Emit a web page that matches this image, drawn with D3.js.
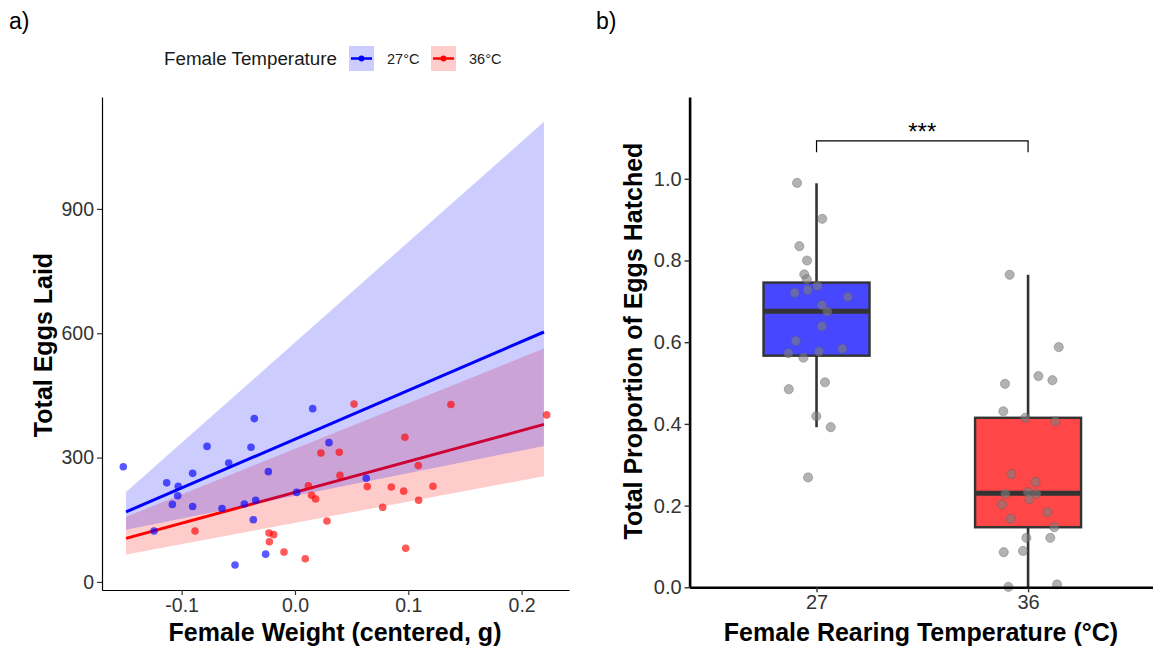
<!DOCTYPE html>
<html>
<head>
<meta charset="utf-8">
<script src="https://cdn.jsdelivr.net/npm/d3@7"></script>
<style>
  html, body { margin: 0; padding: 0; background: #ffffff; }
  svg { display: block; font-family: "Liberation Sans", Arial, sans-serif; }
</style>
</head>
<body>
<svg id="chart" width="1153" height="651"></svg>
<script>
// ---- Panel a: eggs laid vs centred female weight ----
const weight27 = [-0.1515, -0.1244, -0.1132, -0.103, -0.1035, -0.1082, -0.0903, -0.0903, -0.0776, -0.0585,
                  -0.0644, -0.0529, -0.0447, -0.0388, -0.0359, -0.0347, -0.0235, -0.0368, -0.0259, 0.0015,
                  0.0156, 0.030, 0.0629];
const eggs27   = [278, 123, 239, 231, 208, 187, 262, 182, 327, 287,
                  177, 41, 188, 325, 394, 197, 266, 150, 67, 216,
                  418, 336, 250];
const weight36 = [-0.0882, -0.0229, -0.0188, -0.0226, -0.0097, 0.0091, 0.0229, 0.0391, 0.0118, 0.0147,
                  0.0182, 0.0282, 0.0397, 0.0521, 0.0638, 0.0774, 0.085, 0.0959, 0.097, 0.0977,
                  0.1088, 0.1091, 0.1218, 0.1376, 0.2221];
const eggs36   = [123, 118, 114, 97, 72, 56, 311, 313, 232, 209,
                  200, 147, 257, 429, 230, 180, 229, 219, 349, 81,
                  281, 197, 231, 428, 403];

// model predictions at the ends of the weight range
const fitWeight = [-0.1491, 0.2197];
const fit27  = [169, 603];
const low27  = [126, 328];
const high27 = [217, 1110];
const fit36  = [105, 380];
const low36  = [66, 255];
const high36 = [157, 563];

const eggTicks = [0, 300, 600, 900];
const weightTicks = [-0.1, 0.0, 0.1, 0.2];

// ---- Panel b: hatching proportion by rearing temperature ----
const temps = ["27", "36"];
const boxQ1     = [0.567, 0.147];
const boxMedian = [0.676, 0.230];
const boxQ3     = [0.746, 0.415];
const whiskLow  = [0.392, 0.000];
const whiskHigh = [0.989, 0.765];

const hatch27  = [0.990, 0.902, 0.835, 0.800, 0.766, 0.754, 0.738, 0.721, 0.728, 0.711,
                  0.691, 0.675, 0.639, 0.603, 0.584, 0.573, 0.577, 0.562, 0.502, 0.485,
                  0.419, 0.392, 0.269];
const jitter27 = [-0.092, 0.027, -0.081, -0.045, -0.058, -0.046, 0.004, -0.103, -0.042, 0.148,
                  0.025, 0.051, 0.025, -0.098, 0.122, -0.133, 0.012, -0.062, 0.040, -0.131,
                  -0.001, 0.067, -0.040];
const hatch36  = [0.765, 0.588, 0.517, 0.507, 0.498, 0.431, 0.415, 0.406, 0.277, 0.258,
                  0.229, 0.233, 0.229, 0.216, 0.203, 0.184, 0.168, 0.147, 0.121, 0.121,
                  0.086, 0.089, 0.001, 0.007];
const jitter36 = [-0.087, 0.145, 0.049, 0.115, -0.109, -0.117, -0.013, 0.129, -0.079, 0.035,
                  -0.107, -0.001, 0.039, 0.006, -0.123, 0.091, -0.082, 0.124, -0.008, 0.105,
                  -0.115, -0.024, -0.093, 0.137];
const hatchTicks = [0.0, 0.2, 0.4, 0.6, 0.8, 1.0];

// significance bracket (y extent in data units) and its label
const bracketTop = 1.093, bracketFoot = 1.065;
const sigLabel = "***";

const svg = d3.select("#chart");
const BLUE = "#0000ff", RED = "#ff0000";
const FONT = "Liberation Sans, Arial, sans-serif";

// =================== Panel a ===================
const xA = d3.scaleLinear().domain([-0.1703, 0.2418]).range([102, 569]);
const yA = d3.scaleLinear().domain([-19.5, 1170]).range([590, 97]);
const gA = svg.append("g");

function ribbon(lo, hi) {
  return d3.area()
    .x((d, i) => xA(fitWeight[i]))
    .y0((d, i) => yA(lo[i]))
    .y1((d, i) => yA(hi[i]))(fitWeight);
}
function fitLine(f) {
  return d3.line().x((d, i) => xA(fitWeight[i])).y((d, i) => yA(f[i]))(fitWeight);
}

// 36 °C band and line first, then 27 °C on top
gA.append("path").attr("d", ribbon(low36, high36)).attr("fill", RED).attr("fill-opacity", 0.2);
gA.append("path").attr("d", fitLine(fit36)).attr("fill", "none").attr("stroke", RED).attr("stroke-width", 3);
gA.append("path").attr("d", ribbon(low27, high27)).attr("fill", BLUE).attr("fill-opacity", 0.2);
gA.append("path").attr("d", fitLine(fit27)).attr("fill", "none").attr("stroke", BLUE).attr("stroke-width", 3);

gA.append("g").selectAll("circle").data(weight27).join("circle")
  .attr("cx", d => xA(d)).attr("cy", (d, i) => yA(eggs27[i])).attr("r", 3.8)
  .attr("fill", BLUE).attr("fill-opacity", 0.65);
gA.append("g").selectAll("circle").data(weight36).join("circle")
  .attr("cx", d => xA(d)).attr("cy", (d, i) => yA(eggs36[i])).attr("r", 3.8)
  .attr("fill", RED).attr("fill-opacity", 0.65);

// axes
const axA_y = gA.append("g").attr("transform", "translate(102,0)")
  .call(d3.axisLeft(yA).tickValues(eggTicks).tickSizeInner(5).tickSizeOuter(0).tickPadding(3)
    .tickFormat(d3.format("d")));
const axA_x = gA.append("g").attr("transform", "translate(0,590)")
  .call(d3.axisBottom(xA).tickValues(weightTicks).tickSizeInner(5).tickSizeOuter(0).tickPadding(3)
    .tickFormat(d => d3.format(".1f")(d).replace("−", "-")));
[axA_y, axA_x].forEach(ax => {
  ax.select(".domain").attr("stroke", "#000").attr("stroke-width", 1.2);
  ax.selectAll(".tick line").attr("stroke", "#333").attr("stroke-width", 1.2);
  ax.selectAll(".tick text").attr("fill", "#333").style("font-size", "19.5px").style("font-family", FONT);
});

gA.append("text").attr("x", 335).attr("y", 641).attr("text-anchor", "middle")
  .style("font-size", "25px").style("font-weight", "bold").text("Female Weight (centered, g)");
gA.append("text").attr("transform", "translate(52,345) rotate(-90)").attr("text-anchor", "middle")
  .style("font-size", "25px").style("font-weight", "bold").text("Total Eggs Laid");
gA.append("text").attr("x", 9).attr("y", 29).style("font-size", "23px").text("a)");

// legend
const leg = gA.append("g");
leg.append("text").attr("x", 164).attr("y", 65).style("font-size", "18.8px").attr("fill", "#1a1a1a")
  .text("Female Temperature");
const legItems = [{ c: BLUE, label: "27°C", x: 349 }, { c: RED, label: "36°C", x: 431 }];
legItems.forEach(it => {
  leg.append("rect").attr("x", it.x).attr("y", 46).attr("width", 25).attr("height", 25)
    .attr("fill", it.c).attr("fill-opacity", 0.2);
  leg.append("line").attr("x1", it.x + 2).attr("x2", it.x + 23).attr("y1", 58.5).attr("y2", 58.5)
    .attr("stroke", it.c).attr("stroke-width", 2.5);
  leg.append("circle").attr("cx", it.x + 12.5).attr("cy", 58.5).attr("r", 3).attr("fill", it.c);
  leg.append("text").attr("x", it.x + 38).attr("y", 64).style("font-size", "14.5px").attr("fill", "#1a1a1a")
    .text(it.label);
});

// =================== Panel b ===================
const xB = d3.scalePoint().domain(temps).range([689.6, 1155]).padding(0.6);
const stepB = xB.step();
const yB = d3.scaleLinear().domain([0, 1.2]).range([587.3, 97.1]);
const gB = svg.append("g");
const boxFill = [BLUE, RED];
const halfW = 53;

temps.forEach((t, i) => {
  const cx = xB(t);
  gB.append("line").attr("x1", cx).attr("x2", cx).attr("y1", yB(boxQ3[i])).attr("y2", yB(whiskHigh[i]))
    .attr("stroke", "#333").attr("stroke-width", 2.6);
  gB.append("line").attr("x1", cx).attr("x2", cx).attr("y1", yB(boxQ1[i])).attr("y2", yB(whiskLow[i]))
    .attr("stroke", "#333").attr("stroke-width", 2.6);
  gB.append("rect").attr("x", cx - halfW).attr("width", 2 * halfW)
    .attr("y", yB(boxQ3[i])).attr("height", yB(boxQ1[i]) - yB(boxQ3[i]))
    .attr("fill", boxFill[i]).attr("fill-opacity", 0.72)
    .attr("stroke", "#333").attr("stroke-width", 2.4);
  gB.append("line").attr("x1", cx - halfW).attr("x2", cx + halfW)
    .attr("y1", yB(boxMedian[i])).attr("y2", yB(boxMedian[i]))
    .attr("stroke", "#333").attr("stroke-width", 5);
});

const pts = [
  ...hatch27.map((v, i) => ({ t: "27", v, j: jitter27[i] })),
  ...hatch36.map((v, i) => ({ t: "36", v, j: jitter36[i] }))
];
gB.append("g").selectAll("circle").data(pts).join("circle")
  .attr("cx", d => xB(d.t) + d.j * stepB).attr("cy", d => yB(d.v)).attr("r", 4.6)
  .attr("fill", "#7f7f7f").attr("fill-opacity", 0.6)
  .attr("stroke", "#555").attr("stroke-opacity", 0.5).attr("stroke-width", 0.7);

// significance bracket
const bx1 = xB("27"), bx2 = xB("36");
gB.append("path")
  .attr("d", `M${bx1},${yB(bracketFoot)}V${yB(bracketTop)}H${bx2}V${yB(bracketFoot)}`)
  .attr("fill", "none").attr("stroke", "#000").attr("stroke-width", 1.2);
gB.append("text").attr("x", (bx1 + bx2) / 2).attr("y", yB(bracketTop) - 1).attr("text-anchor", "middle")
  .style("font-size", "24px").text(sigLabel);

const axB_y = gB.append("g").attr("transform", "translate(689.6,0)")
  .call(d3.axisLeft(yB).tickValues(hatchTicks).tickSizeInner(5).tickSizeOuter(0).tickPadding(3)
    .tickFormat(d3.format(".1f")));
const axB_x = gB.append("g").attr("transform", "translate(0,587.3)")
  .call(d3.axisBottom(xB).tickSizeInner(5).tickSizeOuter(0).tickPadding(3));
[axB_y, axB_x].forEach(ax => {
  ax.select(".domain").attr("stroke", "#000").attr("stroke-width", 2.6);
  ax.selectAll(".tick line").attr("stroke", "#333").attr("stroke-width", 1.4);
  ax.selectAll(".tick text").attr("fill", "#333").style("font-size", "20px").style("font-family", FONT);
});

gB.append("text").attr("x", 921).attr("y", 641).attr("text-anchor", "middle")
  .style("font-size", "25px").style("font-weight", "bold").text("Female Rearing Temperature (°C)");
gB.append("text").attr("transform", "translate(642,341) rotate(-90)").attr("text-anchor", "middle")
  .style("font-size", "25px").style("font-weight", "bold").text("Total Proportion of Eggs Hatched");
gB.append("text").attr("x", 596).attr("y", 29).style("font-size", "23px").text("b)");
</script>
</body>
</html>
